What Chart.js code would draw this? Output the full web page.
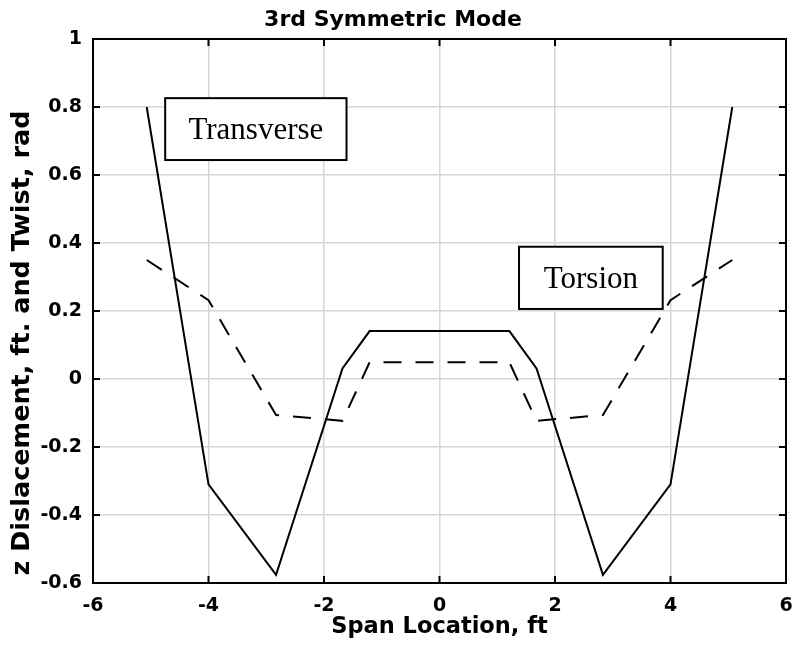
<!DOCTYPE html>
<html>
<head>
<meta charset="utf-8">
<script src="https://cdn.jsdelivr.net/npm/chart.js@4/dist/chart.umd.min.js"></script>
<style>
  html, body { margin: 0; padding: 0; background: #fff; }
  #wrap { width: 792px; height: 645px; }
</style>
</head>
<body>
<div id="wrap"><canvas id="c" width="792" height="645"></canvas></div>
<script>
// Span stations (ft) shared by both mode shapes
const spanFt = [-5.07, -4.0, -2.83, -1.68, -1.21, 1.21, 1.68, 2.83, 4.0, 5.07];
// Transverse (z) displacement, ft
const transverse = [0.80, -0.31, -0.576, 0.031, 0.141, 0.141, 0.031, -0.576, -0.31, 0.80];
// Torsional twist, rad
const torsion = [0.35, 0.232, -0.106, -0.123, 0.049, 0.049, -0.123, -0.106, 0.232, 0.35];

const xTicks = [-6, -4, -2, 0, 2, 4, 6];
const yTicks = [-0.6, -0.4, -0.2, 0, 0.2, 0.4, 0.6, 0.8, 1];

const titleText = '3rd Symmetric Mode';
const xTitle = 'Span Location, ft';
const yTitle = 'z Dislacement, ft. and Twist, rad';

// Curve labels, anchored in data units: [text, x0, x1, yTop, yBottom]
const curveLabels = [
  ['Transverse', -4.75, -1.61, 0.826, 0.644],
  ['Torsion', 1.377, 3.865, 0.389, 0.206]
];

const sansBold = '"DejaVu Sans", sans-serif';

const pts = (ys) => spanFt.map((x, i) => ({ x, y: ys[i] }));

// Framed axes with inward tick marks on all four sides, curve labels and y title
const boxPlugin = {
  id: 'boxFrame',
  afterDatasetsDraw(chart) {
    const { ctx, scales } = chart;
    ctx.save();
    ctx.font = '31px "Liberation Serif", "Times New Roman", serif';
    ctx.textAlign = 'center';
    ctx.textBaseline = 'middle';
    curveLabels.forEach(([t, x0, x1, yT, yB]) => {
      const px0 = scales.x.getPixelForValue(x0);
      const px1 = scales.x.getPixelForValue(x1);
      const py0 = scales.y.getPixelForValue(yT);
      const py1 = scales.y.getPixelForValue(yB);
      ctx.fillStyle = '#fff';
      ctx.fillRect(px0, py0, px1 - px0, py1 - py0);
      ctx.lineWidth = 2;
      ctx.strokeStyle = '#000';
      ctx.strokeRect(px0, py0, px1 - px0, py1 - py0);
      ctx.fillStyle = '#000';
      ctx.fillText(t, (px0 + px1) / 2, (py0 + py1) / 2 + 2);
    });
    ctx.restore();
  },
  afterDraw(chart) {
    const { ctx, chartArea: a, scales } = chart;
    ctx.save();
    ctx.strokeStyle = '#000';
    ctx.lineWidth = 2;
    const tl = 7;
    ctx.beginPath();
    xTicks.forEach(v => {
      const px = scales.x.getPixelForValue(v);
      ctx.moveTo(px, a.bottom); ctx.lineTo(px, a.bottom - tl);
      ctx.moveTo(px, a.top); ctx.lineTo(px, a.top + tl);
    });
    yTicks.forEach(v => {
      const py = scales.y.getPixelForValue(v);
      ctx.moveTo(a.left, py); ctx.lineTo(a.left + tl, py);
      ctx.moveTo(a.right, py); ctx.lineTo(a.right - tl, py);
    });
    ctx.stroke();
    ctx.strokeRect(a.left, a.top, a.right - a.left, a.bottom - a.top);

    // vertical axis title
    ctx.translate(22, 343);
    ctx.rotate(-Math.PI / 2);
    ctx.font = 'bold 25.5px ' + sansBold;
    ctx.fillStyle = '#000';
    ctx.textAlign = 'center';
    ctx.textBaseline = 'middle';
    ctx.fillText(yTitle, 0, 0);
    ctx.restore();
  }
};

new Chart(document.getElementById('c'), {
  type: 'scatter',
  data: {
    datasets: [
      {
        label: 'Transverse',
        data: pts(transverse),
        showLine: true,
        borderColor: '#000',
        borderWidth: 2,
        pointRadius: 0,
        tension: 0
      },
      {
        label: 'Torsion',
        data: pts(torsion),
        showLine: true,
        borderColor: '#000',
        borderWidth: 2,
        borderDash: [18, 14],
        pointRadius: 0,
        tension: 0
      }
    ]
  },
  options: {
    responsive: false,
    animation: false,
    layout: { padding: { left: 0, right: 6, top: 0, bottom: 0 } },
    plugins: {
      legend: { display: false },
      tooltip: { enabled: false },
      title: {
        display: true,
        text: titleText,
        color: '#000',
        font: { family: sansBold, size: 22, weight: 'bold', lineHeight: 1.2 },
        padding: { top: 7, bottom: 5.6 }
      }
    },
    scales: {
      x: {
        type: 'linear',
        min: -6, max: 6,
        afterBuildTicks: s => { s.ticks = xTicks.map(v => ({ value: v })); },
        afterFit: s => { s.height = 62; s.paddingLeft = 0; s.paddingRight = 0; },
        grid: { color: '#d6d6d6', lineWidth: 1.5, drawTicks: false },
        border: { display: false },
        ticks: { color: '#000', padding: 12, font: { family: sansBold, size: 19, weight: 'bold' } },
        title: {
          display: true, text: xTitle, color: '#000',
          font: { family: sansBold, size: 22.5, weight: 'bold', lineHeight: 1.2 },
          padding: { top: 0, bottom: 4 }
        }
      },
      y: {
        type: 'linear',
        min: -0.6, max: 1,
        afterBuildTicks: s => { s.ticks = yTicks.map(v => ({ value: v })); },
        afterFit: s => { s.width = 93; s.paddingTop = 0; s.paddingBottom = 0; },
        grid: { color: '#d6d6d6', lineWidth: 1.5, drawTicks: false },
        border: { display: false },
        ticks: {
          color: '#000', padding: 11,
          font: { family: sansBold, size: 19, weight: 'bold' },
          callback: v => String(+v.toFixed(1))
        },
        title: { display: false }
      }
    }
  },
  plugins: [boxPlugin]
});
</script>
</body>
</html>
